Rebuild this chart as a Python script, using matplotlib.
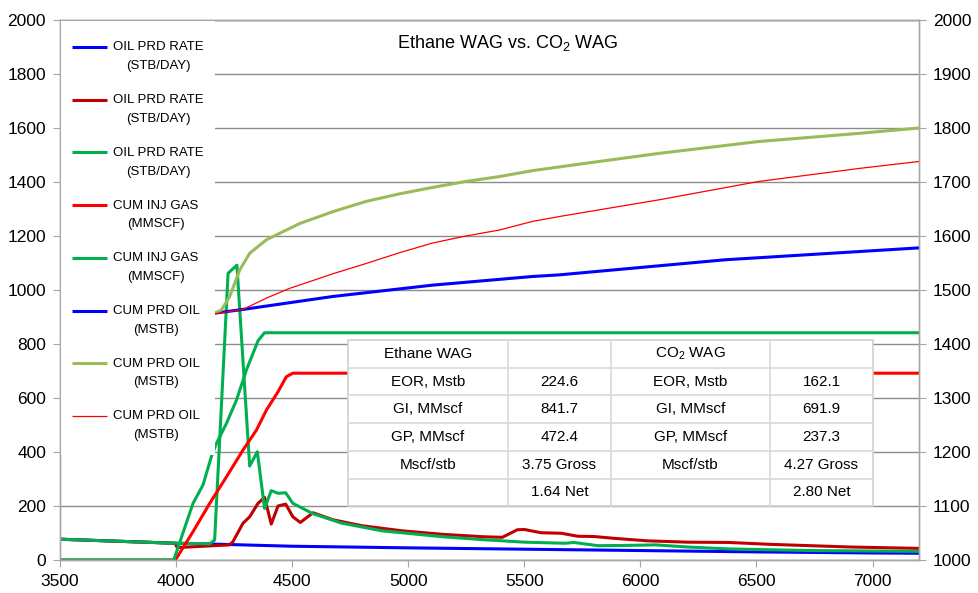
"""
Ethane WAG vs. CO2 WAG - oil rate, cumulative gas injection and cumulative
oil production (left axis: rates / cum gas, right axis: cum oil).
"""
import matplotlib
matplotlib.use("Agg")
import matplotlib.pyplot as plt
from matplotlib.patches import Rectangle

plt.rcParams["font.family"] = ["Liberation Sans", "DejaVu Sans"]
plt.rcParams["mathtext.fontset"] = "custom"
plt.rcParams["mathtext.rm"] = "Liberation Sans"
plt.rcParams["mathtext.it"] = "Liberation Sans:italic"

# ── Data ──────────────────────────────────────────────────────────────────────
# oil production rates, STB/DAY (left axis)
RATE_BLUE_X = [3500, 4000, 4200, 4500, 5000, 5500, 6000, 6500, 7000, 7200]
RATE_BLUE_Y = [77, 62, 58, 51, 45, 40, 35, 30, 26, 25]

RATE_DRED_X = [3500, 3995, 4005, 4230, 4245, 4288, 4317, 4353, 4381, 4410,
               4439, 4472, 4503, 4535, 4590, 4676, 4800, 4975, 5150, 5326,
               5405, 5470, 5500, 5572, 5660, 5730, 5800, 5890, 6030, 6205,
               6380, 6560, 6733, 6910, 7200]
RATE_DRED_Y = [77, 62, 46, 56, 68, 136, 160, 210, 232, 133,
               200, 207, 160, 139, 175, 149, 127, 108, 95, 86,
               84, 112, 113, 101, 99, 88, 87, 80, 71, 66,
               65, 58, 53, 48, 43]

RATE_GRN_X = [3500, 4000, 4145, 4166, 4224, 4262, 4317, 4350, 4381, 4410,
              4439, 4472, 4503, 4588, 4711, 4887, 5150, 5326, 5502, 5678,
              5713, 5818, 5942, 6065, 6205, 6380, 6733, 7200]
RATE_GRN_Y = [77, 62, 60, 74, 1062, 1092, 348, 401, 191, 257,
              247, 249, 210, 172, 137, 108, 86, 75, 66, 62,
              65, 53, 54, 56, 48, 41, 35, 32]

# cumulative injected gas, MMSCF (left axis)
CUM_INJ_RED_X = [3500, 3997, 4073, 4145, 4217, 4288, 4346, 4389, 4439, 4475, 4503, 7200]
CUM_INJ_RED_Y = [0, 0, 105, 210, 308, 407, 481, 555, 623, 679, 691.9, 691.9]

CUM_INJ_GRN_X = [3500, 3990, 4073, 4116, 4152, 4174, 4217, 4260, 4303, 4353, 4381, 7200]
CUM_INJ_GRN_Y = [0, 0, 210, 278, 383, 432, 506, 592, 704, 812, 841.7, 841.7]

# cumulative produced oil, MSTB (right axis)
CUM_OIL_BLUE_X = [3500, 4166, 4288, 4675, 5105, 5535, 5650, 6366, 7200]
CUM_OIL_BLUE_Y = [1411, 1457, 1464, 1488, 1509, 1525, 1528, 1556, 1578]

CUM_OIL_OLIVE_X = [3500, 4166, 4195, 4231, 4274, 4317, 4389, 4532, 4675, 4818,
                   4962, 5105, 5248, 5392, 5535, 5736, 6080, 6510, 6940, 7200]
CUM_OIL_OLIVE_Y = [1411, 1457, 1463, 1488, 1537, 1568, 1593, 1623, 1645, 1664,
                   1678, 1690, 1701, 1710, 1721, 1733, 1753, 1775, 1790, 1800]

CUM_OIL_RED_X = [3500, 4166, 4288, 4389, 4489, 4675, 4818, 4962, 5105, 5248,
                 5392, 5535, 5650, 6080, 6510, 6940, 7200]
CUM_OIL_RED_Y = [1411, 1456, 1464, 1485, 1503, 1530, 1549, 1569, 1587, 1600,
                 1611, 1627, 1636, 1667, 1701, 1725, 1738]

LEGEND_LABELS = ["OIL PRD RATE\n(STB/DAY)"] * 3 + ["CUM INJ GAS\n(MMSCF)"] * 2 \
                + ["CUM PRD OIL\n(MSTB)"] * 3

TABLE = [
    ["Ethane WAG", "", "CO$_2$ WAG", ""],
    ["EOR, Mstb", "224.6", "EOR, Mstb", "162.1"],
    ["GI, MMscf", "841.7", "GI, MMscf", "691.9"],
    ["GP, MMscf", "472.4", "GP, MMscf", "237.3"],
    ["Mscf/stb", "3.75 Gross", "Mscf/stb", "4.27 Gross"],
    ["", "1.64 Net", "", "2.80 Net"],
]

BLUE, DRED, GRN, RED, OLIVE = "#0000ff", "#c00000", "#00b050", "#ff0000", "#9bbb59"
SPINE = "#a6a6a6"
GRID = "#8c8c8c"

# ── Figure / axes ─────────────────────────────────────────────────────────────
W, H = 979, 593
fig = plt.figure(figsize=(W / 100, H / 100), dpi=100)
L, R, T, B = 60, 919, 20, 560
ax = fig.add_axes([L / W, 1 - B / H, (R - L) / W, (B - T) / H])
ax2 = ax.twinx()

ax.plot(RATE_BLUE_X, RATE_BLUE_Y, color=BLUE, lw=2.2)
ax.plot(RATE_DRED_X, RATE_DRED_Y, color=DRED, lw=2.2)
ax.plot(RATE_GRN_X, RATE_GRN_Y, color=GRN, lw=2.2)
ax.plot(CUM_INJ_RED_X, CUM_INJ_RED_Y, color=RED, lw=2.2)
ax.plot(CUM_INJ_GRN_X, CUM_INJ_GRN_Y, color=GRN, lw=2.2)

ax2.plot(CUM_OIL_BLUE_X, CUM_OIL_BLUE_Y, color=BLUE, lw=2.2)
ax2.plot(CUM_OIL_OLIVE_X, CUM_OIL_OLIVE_Y, color=OLIVE, lw=2.2)
ax2.plot(CUM_OIL_RED_X, CUM_OIL_RED_Y, color=RED, lw=0.9)

ax.set_xlim(3500, 7200)
ax.set_ylim(0, 2000)
ax2.set_ylim(1000, 2000)
ax.set_xticks(range(3500, 7001, 500))
ax.set_yticks(range(0, 2001, 200))
ax2.set_yticks(range(1000, 2001, 100))

ax.set_axisbelow(True)
ax.yaxis.grid(True, color=GRID, lw=1.0)
for a in (ax, ax2):
    for s in a.spines.values():
        s.set_color(SPINE)
        s.set_linewidth(1.0)
ax.spines["top"].set_color(GRID)
ax.tick_params(axis="both", direction="out", length=5, color=SPINE,
               labelsize=12.5, pad=5)
ax2.tick_params(axis="y", direction="out", length=5, color=SPINE,
                labelsize=12.5, pad=5)

# ── Overlay in pixel coordinates for title, legend box and table ──────────────
ov = fig.add_axes([0, 0, 1, 1])
ov.set_xlim(0, W)
ov.set_ylim(H, 0)
ov.axis("off")

ov.text(508, 43, "Ethane WAG vs. CO$_2$ WAG", ha="center", va="center", fontsize=13)

# legend
ov.add_patch(Rectangle((61, 21), 154, 434, facecolor="white", edgecolor="none", zorder=2))
leg_styles = [(BLUE, 2.2), (DRED, 2.2), (GRN, 2.2), (RED, 2.2),
              (GRN, 2.2), (BLUE, 2.2), (OLIVE, 2.2), (RED, 0.9)]
for i, (lab, (c, lw)) in enumerate(zip(LEGEND_LABELS, leg_styles)):
    py = 47 + 52.7 * i
    ov.plot([72, 107], [py, py], color=c, lw=lw, zorder=3, solid_capstyle="butt")
    ov.text(113, py - 5.5, lab, ha="left", va="top", multialignment="center",
            fontsize=9.5, linespacing=1.75, zorder=3)

# table
col_edges = [348, 508, 611, 770, 873]
row_top, row_h = 340, 27.7
n_rows = len(TABLE)
ov.add_patch(Rectangle((col_edges[0], row_top), col_edges[-1] - col_edges[0],
                       row_h * n_rows, facecolor="white", edgecolor="#d0d0d0",
                       lw=1.2, zorder=2))
for xe in col_edges[1:-1]:
    ov.plot([xe, xe], [row_top, row_top + row_h * n_rows], color="#d9d9d9", lw=1.2, zorder=3)
for r in range(1, n_rows):
    ov.plot([col_edges[0], col_edges[-1]], [row_top + r * row_h] * 2,
            color="#d9d9d9", lw=1.2, zorder=3)
for r, row in enumerate(TABLE):
    for c, txt in enumerate(row):
        if not txt:
            continue
        cx = (col_edges[c] + col_edges[c + 1]) / 2
        cy = row_top + (r + 0.5) * row_h
        ov.text(cx, cy, txt, ha="center", va="center", fontsize=11, zorder=4)

fig.savefig("out.png", dpi=100)
